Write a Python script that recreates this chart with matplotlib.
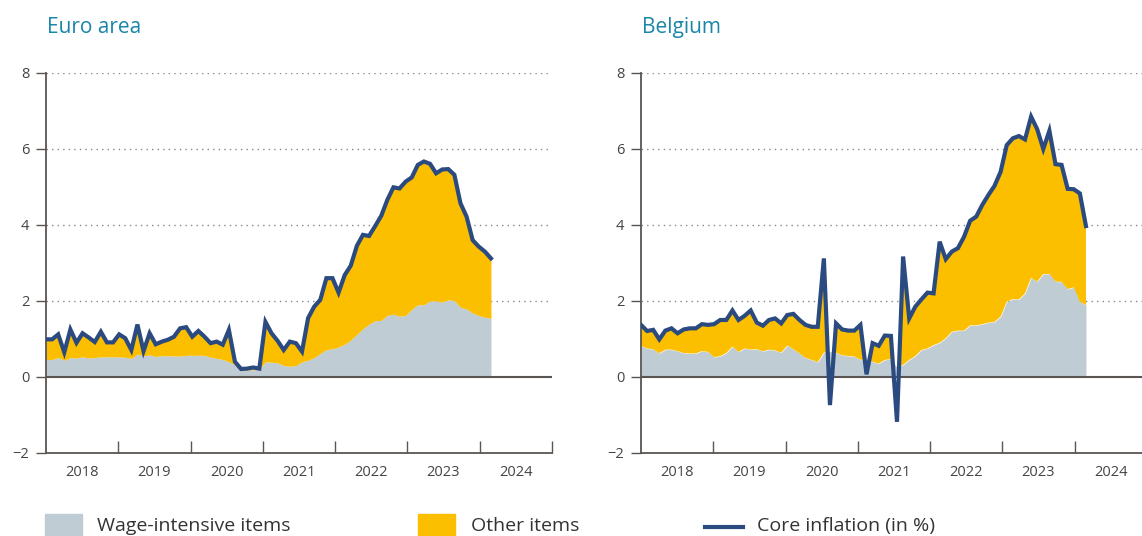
import numpy as np
import matplotlib
matplotlib.use("Agg")
import matplotlib.pyplot as plt
from matplotlib.patches import Rectangle
from matplotlib.lines import Line2D

plt.rcParams['font.family'] = ['Open Sans', 'DejaVu Sans']

# monthly data, Jan 2018 .. Feb 2024
years = ['2018', '2019', '2020', '2021', '2022', '2023', '2024']

ea_core = [0.99, 0.99, 1.12, 0.65, 1.25, 0.90, 1.15, 1.04, 0.92, 1.19, 0.91, 0.91,
           1.12, 1.02, 0.71, 1.38, 0.68, 1.15, 0.86, 0.93, 0.98, 1.06, 1.28, 1.31,
           1.06, 1.21, 1.06, 0.89, 0.93, 0.85, 1.24, 0.40, 0.21, 0.22, 0.25, 0.22,
           1.45, 1.15, 0.95, 0.71, 0.93, 0.89, 0.67, 1.55, 1.85, 2.03, 2.60, 2.60,
           2.22, 2.68, 2.93, 3.45, 3.74, 3.71, 3.97, 4.24, 4.66, 4.99, 4.96, 5.14,
           5.25, 5.58, 5.67, 5.61, 5.36, 5.46, 5.47, 5.32, 4.57, 4.22, 3.60, 3.43,
           3.30, 3.12]
ea_wage = [0.46, 0.46, 0.51, 0.44, 0.51, 0.50, 0.53, 0.50, 0.51, 0.53, 0.53, 0.53,
           0.53, 0.52, 0.49, 0.60, 0.56, 0.58, 0.54, 0.56, 0.56, 0.55, 0.55, 0.57,
           0.57, 0.57, 0.57, 0.52, 0.49, 0.46, 0.40, 0.32, 0.17, 0.18, 0.19, 0.20,
           0.40, 0.39, 0.37, 0.30, 0.28, 0.30, 0.40, 0.44, 0.51, 0.62, 0.72, 0.74,
           0.79, 0.86, 0.97, 1.12, 1.27, 1.39, 1.48, 1.49, 1.62, 1.65, 1.60, 1.62,
           1.78, 1.90, 1.90, 2.00, 2.00, 1.97, 2.03, 2.01, 1.83, 1.79, 1.68, 1.62,
           1.57, 1.55]

be_core = [1.37, 1.21, 1.24, 0.99, 1.22, 1.28, 1.15, 1.25, 1.28, 1.28, 1.39, 1.37,
           1.39, 1.50, 1.50, 1.75, 1.50, 1.61, 1.75, 1.43, 1.35, 1.50, 1.54, 1.41,
           1.63, 1.66, 1.50, 1.37, 1.32, 1.32, 3.12, -0.74, 1.41, 1.25, 1.22, 1.22,
           1.37, 0.07, 0.89, 0.82, 1.09, 1.08, -1.18, 3.17, 1.54, 1.85, 2.04, 2.22,
           2.20, 3.56, 3.10, 3.30, 3.39, 3.69, 4.11, 4.22, 4.53, 4.79, 5.03, 5.40,
           6.10, 6.28, 6.34, 6.25, 6.85, 6.52, 6.00, 6.48, 5.60, 5.58, 4.95, 4.94,
           4.83, 3.97]
be_wage = [0.82, 0.75, 0.73, 0.62, 0.72, 0.72, 0.68, 0.63, 0.62, 0.62, 0.68, 0.66,
           0.52, 0.55, 0.63, 0.80, 0.66, 0.75, 0.72, 0.73, 0.68, 0.72, 0.70, 0.64,
           0.83, 0.73, 0.62, 0.50, 0.45, 0.39, 0.64, 0.67, 0.64, 0.57, 0.55, 0.54,
           0.45, 0.47, 0.40, 0.35, 0.45, 0.47, 0.25, 0.32, 0.45, 0.55, 0.71, 0.75,
           0.84, 0.90, 1.02, 1.19, 1.22, 1.22, 1.36, 1.36, 1.39, 1.43, 1.45, 1.59,
           1.98, 2.05, 2.04, 2.20, 2.61, 2.51, 2.71, 2.71, 2.51, 2.50, 2.31, 2.36,
           1.98, 1.89]

grey = '#bfccd3'
yellow = '#fbbf00'
blue = '#2b4b80'
teal = '#1a86a8'
axcol = '#5a5550'

fig = plt.figure(figsize=(11.42, 5.36), dpi=100)

def panel(left, core, wage, title):
    ax = fig.add_axes([left, 0.1549, 0.443, 0.709])
    core = np.array(core)
    wage = np.array(wage)
    x = np.arange(len(core))
    ax.fill_between(x, 0, wage, color=grey, lw=0, zorder=2)
    ax.fill_between(x, wage, core, where=core >= wage, interpolate=True,
                    color=yellow, lw=0, zorder=2)
    ax.plot(x, core, color=blue, lw=3, zorder=4, solid_joinstyle='miter')
    ax.axhline(0, color=axcol, lw=1.5, zorder=3)
    for v in [2, 4, 6, 8]:
        ax.axhline(v, color='#888888', lw=1, ls=(0, (1, 3)), zorder=1)
    n = 83
    ax.set_xlim(0, n)
    ax.set_ylim(-2, 8)
    ax.set_yticks([-2, 0, 2, 4, 6, 8])
    ax.set_yticklabels(['\u22122', '0', '2', '4', '6', '8'])
    ax.set_xticks([n * k / 7 for k in range(1, 8)])
    ax.set_xticklabels([])
    ax.set_xticks([n * (k + 0.5) / 7 for k in range(7)], minor=True)
    ax.set_xticklabels(years, minor=True)
    ax.tick_params(axis='x', which='major', direction='in', length=9,
                   width=1, color=axcol)
    ax.tick_params(axis='x', which='minor', length=0, pad=9,
                   labelsize=10.5, labelcolor='#444444')
    ax.tick_params(axis='y', direction='out', length=7, width=1, color=axcol,
                   pad=5, labelsize=10.5, labelcolor='#444444')
    for s in ['top', 'right']:
        ax.spines[s].set_visible(False)
    for s in ['left', 'bottom']:
        ax.spines[s].set_color(axcol)
        ax.spines[s].set_linewidth(1.3)
    ax.set_facecolor('none')
    ax.set_title(title, loc='left', color=teal, fontsize=15, x=0.002, y=1.0,
                 pad=29)
    return ax

panel(46 / 1142, ea_core, ea_wage, 'Euro area')
panel(641 / 1142, be_core, be_wage, 'Belgium')

# legend along the bottom
W, H = 1142, 536
fig.patches.append(Rectangle((45 / W, 0.0), 37 / W, 22 / H, color=grey,
                             transform=fig.transFigure, figure=fig))
fig.text(97 / W, 1 - 526 / H, 'Wage-intensive items', fontsize=14,
         color='#333333', va='center')
fig.patches.append(Rectangle((418 / W, 0.0), 37 / W, 22 / H, color=yellow,
                             transform=fig.transFigure, figure=fig))
fig.text(471 / W, 1 - 526 / H, 'Other items', fontsize=14,
         color='#333333', va='center')
fig.lines.append(Line2D([705 / W, 743 / W], [1 - 527 / H, 1 - 527 / H],
                        color=blue, lw=3, transform=fig.transFigure))
fig.text(757 / W, 1 - 526 / H, 'Core inflation (in %)', fontsize=14,
         color='#333333', va='center')

fig.savefig('out.png', dpi=100)
